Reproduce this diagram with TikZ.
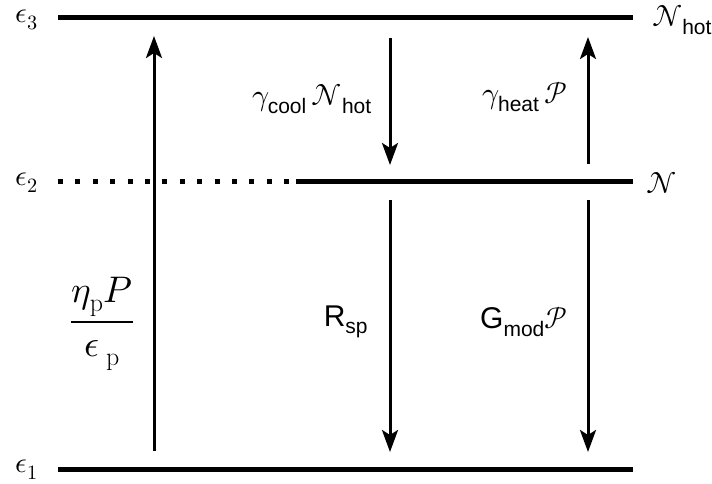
\documentclass[tikz,border=0pt]{standalone}
\usepackage{fontspec}
\setsansfont{Liberation Sans}
\usepackage{unicode-math}
\setmathfont{Latin Modern Math}
\usetikzlibrary{arrows.meta}
\begin{document}
\begin{tikzpicture}[x=1pt,y=-1pt,
  level/.style={line width=5pt},
  dotlevel/.style={line width=5pt,dash pattern=on 5pt off 12.4pt},
  trans/.style={line width=3pt,-{Stealth[length=22pt,width=16pt,inset=5pt]}},
  elbl/.style={inner sep=0pt,font=\fontsize{29}{32}\selectfont},
  lbl/.style={inner sep=0pt,font=\fontsize{30}{33}\selectfont},
  biglbl/.style={inner sep=0pt,font=\fontsize{37}{40}\selectfont}]
\useasboundingbox (0,0) rectangle (712,484);
% level endpoints
\coordinate (e3l) at (58,18);
\coordinate (e3r) at (633,18);
\coordinate (e2l) at (58,181);
\coordinate (e2m) at (296,181);
\coordinate (e2r) at (633,181);
\coordinate (e1l) at (58,469);
\coordinate (e1r) at (633,469);
\draw[level] (e3l) -- (e3r);
\draw[level] (e1l) -- (e1r);
\draw[dotlevel] (e2l) -- (e2m);
\draw[level] (e2m) -- (e2r);
% level labels
\node[elbl] (l3) at (27,20) {$\epsilon_3$};
\node[elbl] (l2) at (27,183) {$\epsilon_2$};
\node[elbl] (l1) at (27,470) {$\epsilon_1$};
\node[lbl] (nh) at (682,20) {$\mathcal{N}_{\textsf{hot}}$};
\node[lbl] (nn) at (662,183) {$\mathcal{N}$};
% arrow endpoints
\coordinate (pb) at (154,451);
\coordinate (pt) at (154,36);
\coordinate (ct) at (390,38);
\coordinate (cb) at (390,165);
\coordinate (hb) at (588,164);
\coordinate (ht) at (588,37);
\coordinate (rt) at (390,200);
\coordinate (rb) at (390,452);
\coordinate (gt) at (588,200);
\coordinate (gb) at (588,452);
\draw[trans] (pb) -- (pt);
\draw[trans] (ct) -- (cb);
\draw[trans] (hb) -- (ht);
\draw[trans] (rt) -- (rb);
\draw[trans] (gt) -- (gb);
% transition labels
\node[biglbl] (pump) at (102,324) {$\dfrac{\eta_{\mathrm{p}}P}{\epsilon_{\mathrm{\;p}}}$};
\node[lbl] (cool) at (312,99) {$\gamma_{\textsf{cool}}\,\mathcal{N}_{\textsf{hot}}$};
\node[lbl] (heat) at (525,97) {$\gamma_{\textsf{heat}}\,\mathcal{P}$};
\node[lbl] (rsp) at (346,322) {\textsf{R}$_{\textsf{sp}}$};
\node[lbl] (gmod) at (524,322) {\textsf{G}$_{\textsf{mod}}\mathcal{P}$};
\end{tikzpicture}
\end{document}
